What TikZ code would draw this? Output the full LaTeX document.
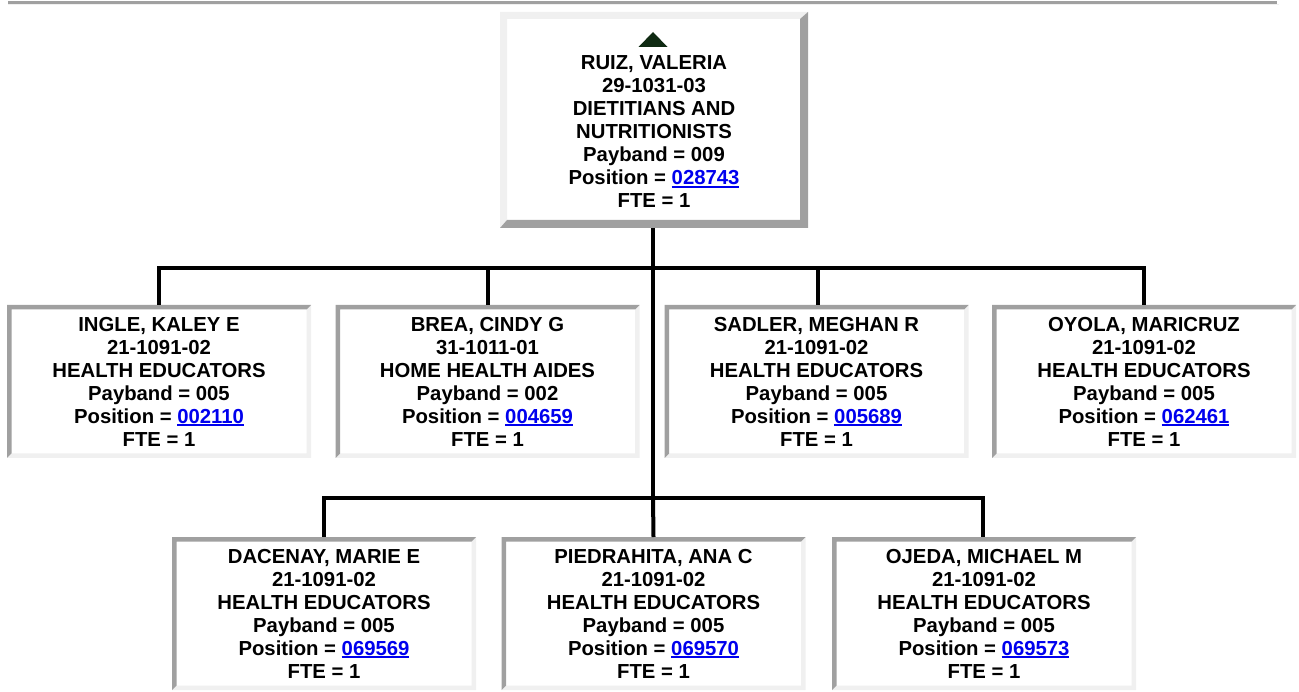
\documentclass[tikz,border=0pt]{standalone}
\usepackage{fontspec}
\setmainfont{Liberation Sans}
\usetikzlibrary{calc}
\definecolor{linkblue}{HTML}{0000EE}
\definecolor{bdark}{HTML}{A0A0A0}
\definecolor{blight}{HTML}{F0F0F0}
\definecolor{tricol}{HTML}{0F2A12}
\newsavebox\lnkbox
\newcommand\lnk[1]{\sbox\lnkbox{\color{linkblue}#1}\rlap{\color{linkblue}\rule[-2.6pt]{\wd\lnkbox}{1.6pt}}\usebox\lnkbox}
\newcommand\insetborder[1]{%
  \fill[blight] (#1.south west) -- (#1.south east) -- (#1.north east) -- ($(#1.north east)+(-4.5,4.5)$) -- ($(#1.south east)+(-4.5,-4.5)$) -- ($(#1.south west)+(4.5,-4.5)$) -- cycle;
  \fill[bdark] (#1.south west) -- (#1.north west) -- (#1.north east) -- ($(#1.north east)+(-4.5,4.5)$) -- ($(#1.north west)+(4.5,4.5)$) -- ($(#1.south west)+(4.5,-4.5)$) -- cycle;}
\newcommand\outsetborder[1]{%
  \fill[blight] (#1.south west) -- (#1.north west) -- (#1.north east) -- ($(#1.north east)+(-8,7)$) -- ($(#1.north west)+(7,7)$) -- ($(#1.south west)+(7,-8)$) -- cycle;
  \fill[bdark] (#1.south west) -- (#1.south east) -- (#1.north east) -- ($(#1.north east)+(-8,7)$) -- ($(#1.south east)+(-8,-8)$) -- ($(#1.south west)+(7,-8)$) -- cycle;}
\tikzset{
  txt/.style={inner sep=0pt, outer sep=0pt, align=center, font=\fontsize{20.3}{23}\bfseries\selectfont},
  person/.style={txt, fill=white, minimum width=304pt, minimum height=153pt},
  topbox/.style={fill=white, inner sep=0pt, outer sep=0pt, minimum width=308pt, minimum height=216pt},
  conn/.style={line width=4pt, black, line join=miter},
}
\begin{document}
\begin{tikzpicture}[x=1pt,y=-1pt]
\useasboundingbox (0,0) rectangle (1299,692);
% top rule
\fill[bdark] (8,1) rectangle (1277,4);
\fill[blight] (8,4) rectangle (1279,5);
% top box
\node[topbox] (top) at (654,120) {};
\outsetborder{top}
\node[txt] (toptext) at (654,132) {RUIZ, VALERIA\\29-1031-03\\DIETITIANS AND\\NUTRITIONISTS\\Payband = 009\\Position = \lnk{028743}\\FTE = 1};
\fill[tricol] ($(top.north)+(-15.5,35)$) -- ($(top.north)+(13.5,35)$) -- ($(top.north)+(-1,20)$) -- cycle;
% row 1
\node[person] (c1) at (159,381.5) {INGLE, KALEY E\\21-1091-02\\HEALTH EDUCATORS\\Payband = 005\\Position = \lnk{002110}\\FTE = 1};
\node[person] (c2) at (487.5,381.5) {BREA, CINDY G\\31-1011-01\\HOME HEALTH AIDES\\Payband = 002\\Position = \lnk{004659}\\FTE = 1};
\node[person] (c3) at (816.5,381.5) {SADLER, MEGHAN R\\21-1091-02\\HEALTH EDUCATORS\\Payband = 005\\Position = \lnk{005689}\\FTE = 1};
\node[person] (c4) at (1144,381.5) {OYOLA, MARICRUZ\\21-1091-02\\HEALTH EDUCATORS\\Payband = 005\\Position = \lnk{062461}\\FTE = 1};
% row 2
\node[person] (c5) at (324,613.5) {DACENAY, MARIE E\\21-1091-02\\HEALTH EDUCATORS\\Payband = 005\\Position = \lnk{069569}\\FTE = 1};
\node[person] (c6) at (653.5,613.5) {PIEDRAHITA, ANA C\\21-1091-02\\HEALTH EDUCATORS\\Payband = 005\\Position = \lnk{069570}\\FTE = 1};
\node[person] (c7) at (984,613.5) {OJEDA, MICHAEL M\\21-1091-02\\HEALTH EDUCATORS\\Payband = 005\\Position = \lnk{069573}\\FTE = 1};
\foreach \n in {c1,c2,c3,c4,c5,c6,c7} {\insetborder{\n}}
% connectors
\coordinate (b1) at (653,268);
\coordinate (b2) at (653,498);
\draw[conn] ([xshift=-1pt]top.south) -- (b2);
\draw[conn] (b1) -| (c1.north);
\draw[conn] (b1) -| (c2.north);
\draw[conn] (b1) -| ([xshift=1.5pt]c3.north);
\draw[conn] (b1) -| (c4.north);
\draw[conn] (b2) -| (c5.north);
\draw[conn] (b2) -- (c6.north);
\draw[conn] (b2) -| ([xshift=-1pt]c7.north);
\end{tikzpicture}
\end{document}
